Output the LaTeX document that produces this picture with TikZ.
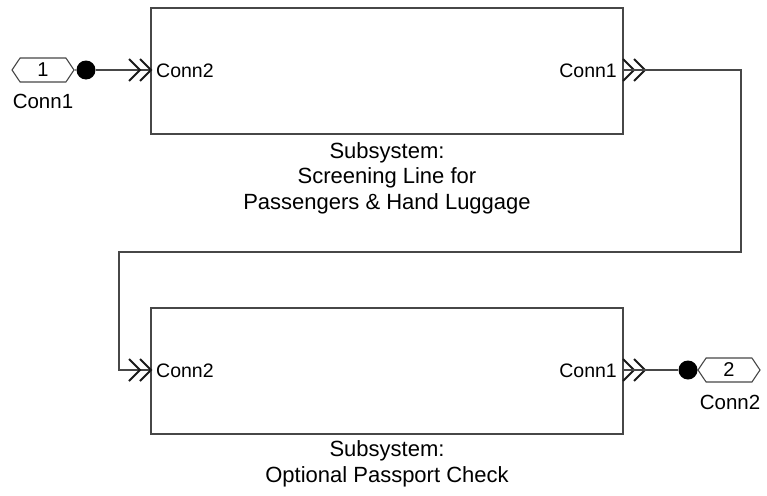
\documentclass[tikz,border=0pt]{standalone}
\usepackage{fontspec}
\setmainfont{Liberation Sans}
\usetikzlibrary{shapes.symbols}
\begin{document}
\begin{tikzpicture}[x=1pt,y=-1pt,
  line/.style={draw=black!72, line width=1.1pt},
  block/.style={line, rectangle, minimum width=472pt, minimum height=126pt, inner sep=0pt},
  lbl/.style={font=\fontsize{19.5}{23}\selectfont, inner sep=0pt},
  captxt/.style={font=\fontsize{22}{25.5}\selectfont, align=center, inner sep=0pt},
  dot/.style={circle, fill=black, minimum size=19pt, inner sep=0pt},
  portbox/.style={line, signal, signal to=west and east, signal pointer angle=112,
    minimum width=62pt, minimum height=24pt, inner sep=0pt,
    font=\fontsize{20}{23}\selectfont},
  wire/.style={line},
  chevpair/.pic={
    \draw[black!90, line width=2pt, line join=miter]
      (-22pt,-11pt) -- (-11pt,0pt) -- (-22pt,11pt)
      (-11pt,-11pt) -- (0pt,0pt) -- (-11pt,11pt);
  }]
\useasboundingbox (0,0) rectangle (767,495);

% subsystem blocks
\node[block] (scr) at (387,71) {};
\node[block] (pass) at (387,371) {};

% port labels inside the blocks
\node[lbl, anchor=west] (scrin) at (156,71) {Conn2};
\node[lbl, anchor=east] (scrout) at (617,71) {Conn1};
\node[lbl, anchor=west] (passin) at (156,371) {Conn2};
\node[lbl, anchor=east] (passout) at (617,371) {Conn1};

% block captions
\node[captxt] (scrcap) at (387,178) {Subsystem:\\Screening Line for\\Passengers \& Hand Luggage};
\node[captxt] (passcap) at (387,464) {Subsystem:\\Optional Passport Check};

% external connection ports
\node[portbox] (p1) at (43,70) {1};
\node[lbl, font=\fontsize{20.5}{23}\selectfont] (p1lbl) at (43,101) {Conn1};
\node[dot] (d1) at (86,70) {};
\node[portbox] (p2) at (729,370) {2};
\node[lbl, font=\fontsize{20.5}{23}\selectfont] (p2lbl) at (730,402) {Conn2};
\node[dot] (d2) at (688,370) {};

% connection points on the block edges
\coordinate (scrW) at (151,70);
\coordinate (scrE) at (623,70);
\coordinate (passW) at (151,370);
\coordinate (passE) at (623,370);
\coordinate (scrEa) at (645,70);
\coordinate (passEa) at (645,370);
\coordinate (turnA) at (741,70);
\coordinate (turnB) at (741,252);
\coordinate (turnC) at (119,252);
\coordinate (turnD) at (119,370);

% connectors
\draw[wire] (p1) -- (d1);
\draw[wire] (d1) -- (scrW);
\pic at (scrW) {chevpair};
\pic at (scrEa) {chevpair};
\draw[wire] (scrE) -- (turnA) -- (turnB) -- (turnC) -- (turnD) -- (passW);
\pic at (passW) {chevpair};
\pic at (passEa) {chevpair};
\draw[wire] (passE) -- (d2);
\draw[wire] (d2) -- (p2);
\end{tikzpicture}
\end{document}
